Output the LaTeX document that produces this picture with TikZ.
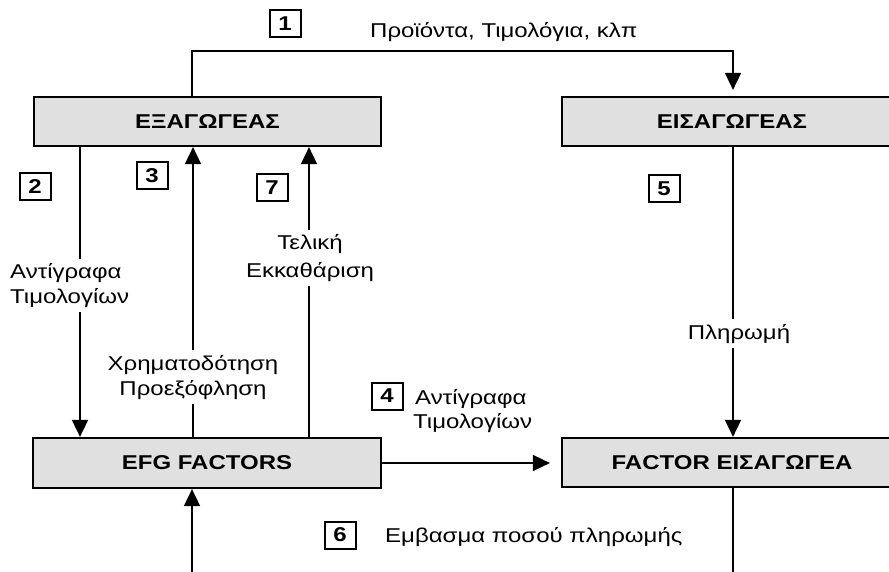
\documentclass[tikz,border=0pt]{standalone}
\usepackage{fontspec}
\setmainfont[FakeStretch=1.2]{Liberation Sans}
\usetikzlibrary{arrows.meta}
\begin{document}
\begin{tikzpicture}[x=1pt,y=-1pt,
  box/.style={draw, line width=2.2pt, fill=black!12, minimum height=49pt, inner sep=0pt,
    font=\bfseries\fontsize{20}{24}\selectfont},
  num/.style={draw, line width=2pt, minimum width=31pt, minimum height=27pt, inner sep=0pt,
    font=\bfseries\fontsize{20}{22}\selectfont},
  lab/.style={fill=white, inner xsep=3pt, inner ysep=5pt, font=\fontsize{20}{24}\selectfont},
  conn/.style={line width=1.7pt},
  arr/.style={conn, -{Triangle[length=17pt,width=16pt]}}]
\clip (0,0) rectangle (889,572);
\fill[white] (0,0) rectangle (889,572);

% boxes
\node[box, minimum width=347pt] (exp) at (207.5,121.5) {ΕΞΑΓΩΓΕΑΣ};
\node[box, minimum width=340pt] (imp) at (732,121.5) {ΕΙΣΑΓΩΓΕΑΣ};
\node[box, minimum width=348pt, minimum height=50pt] (efg) at (207,463) {EFG FACTORS};
\node[box, minimum width=340pt] (fimp) at (732,462.5) {FACTOR ΕΙΣΑΓΩΓΕΑ};

% helper coordinates
\coordinate (t1) at (192,51);
\coordinate (t2) at (733,51);
\coordinate (x2) at (80,0);
\coordinate (x3) at (193,0);
\coordinate (x7) at (309,0);
\coordinate (b1) at (733,600);
\coordinate (b2) at (192,600);

% connectors
\draw[arr, shorten >=6pt] (exp.north -| t1) -- (t1) -- (t2) -- (imp.north -| t2);
\draw[arr] (exp.south -| x2) -- (efg.north -| x2);
\draw[arr] (efg.north -| x3) -- (exp.south -| x3);
\draw[arr] (efg.north -| x7) -- (exp.south -| x7);
\draw[arr] (imp.south -| t2) -- (fimp.north -| t2);
\draw[arr, shorten >=11pt] (efg.east) -- (efg.east -| fimp.west);
\draw[arr] (fimp.south -| b1) -- (b1) -- (b2) -- (efg.south -| b2);

% number boxes
\node[num] (n1) at (285,24) {1};
\node[num] (n2) at (35,187) {2};
\node[num] (n3) at (152,176) {3};
\node[num] (n7) at (272,188) {7};
\node[num] (n5) at (664,189) {5};
\node[num] (n4) at (387,396) {4};
\node[num] (n6) at (340,535) {6};

% labels
\node[lab, anchor=base west] (l1) at (367,38) {Προϊόντα, Τιμολόγια, κλπ};
\node[lab, anchor=base west] (l2a) at (7,279) {Αντίγραφα};
\node[lab, anchor=base west] (l2b) at (7,303) {Τιμολογίων};
\node[lab, anchor=base] (l3a) at (193,370) {Χρηματοδότηση};
\node[lab, anchor=base] (l3b) at (193,395) {Προεξόφληση};
\node[lab, anchor=base] (l7a) at (310,250) {Τελική};
\node[lab, anchor=base] (l7b) at (310,277) {Εκκαθάριση};
\node[lab, anchor=base] (l5) at (739,339) {Πληρωμή};
\node[lab, anchor=base west] (l4a) at (412,404) {Αντίγραφα};
\node[lab, anchor=base west] (l4b) at (410,428) {Τιμολογίων};
\node[lab, anchor=base west] (l6) at (382,542) {Εμβασμα ποσού πληρωμής};
\end{tikzpicture}
\end{document}
